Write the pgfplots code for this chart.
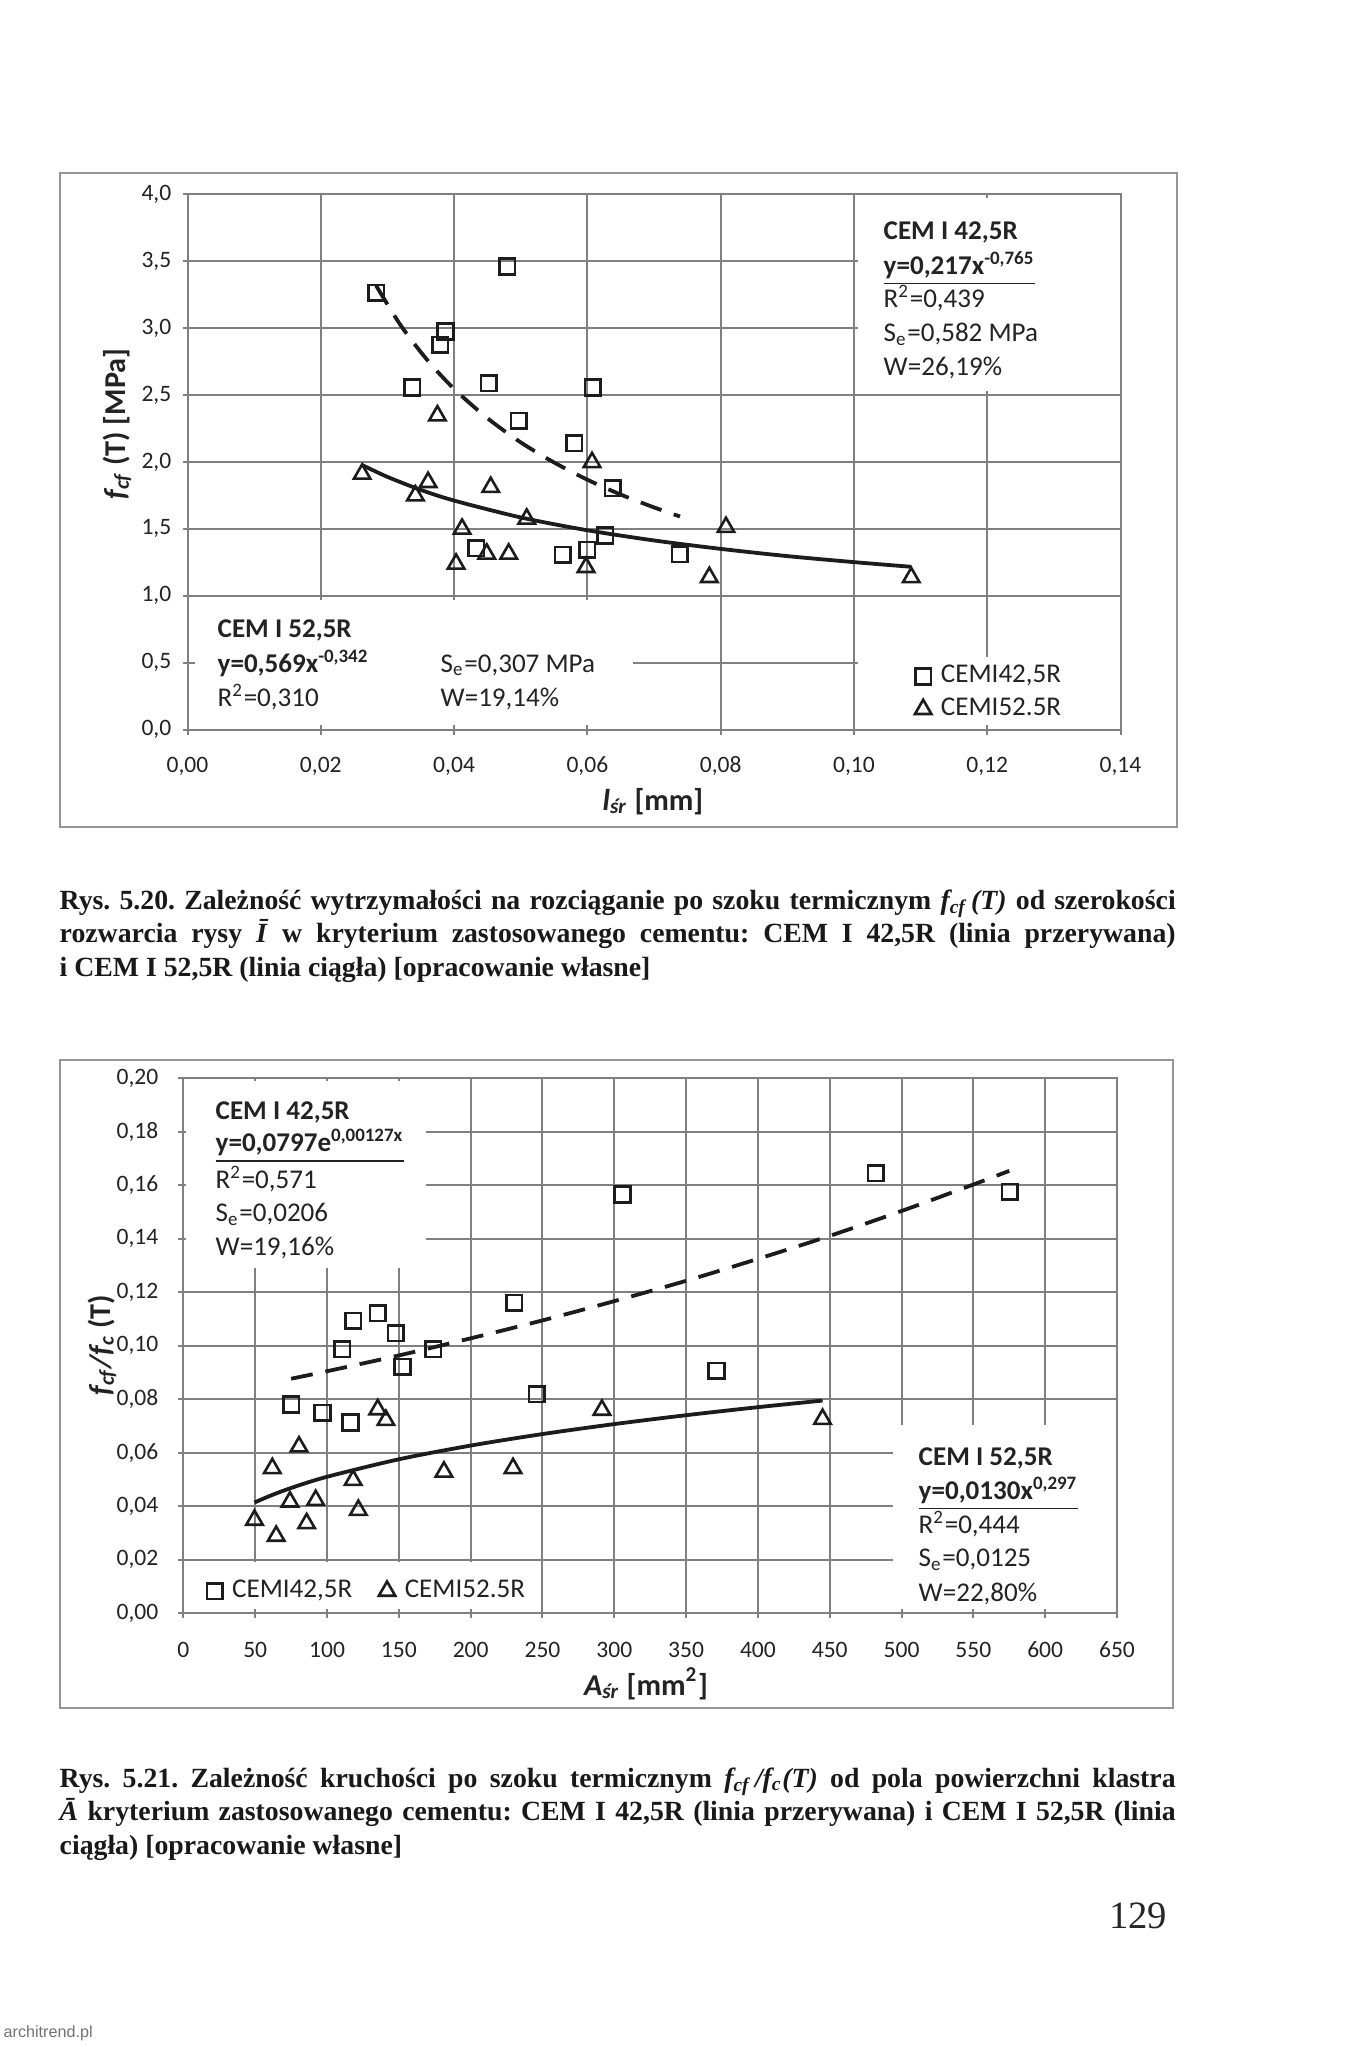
\documentclass[border=0pt]{standalone}
\usepackage{fontspec}
\setmainfont{Carlito}
\newfontfamily\timesf{Liberation Serif}
\newfontfamily\sansf{Liberation Sans}
\usepackage{pgfplots}
\pgfplotsset{compat=1.18}
\definecolor{gridc}{RGB}{128,128,128}
\definecolor{ink}{RGB}{28,28,28}
\definecolor{framec}{RGB}{150,150,150}
\definecolor{txt}{RGB}{35,35,35}
\newcommand{\tickf}{\fontsize{6.7}{8}\selectfont}
\newcommand{\annf}{\fontsize{7.7}{9.3}\selectfont}
\newcommand{\labf}{\fontsize{8.6}{10}\selectfont\bfseries}
\newcommand{\capf}{\timesf\bfseries\fontsize{7.9}{9.5}\selectfont\frenchspacing}

\pgfplotsset{
 excel/.style={
  scale only axis, clip=false, grid=major,
  major grid style={gridc, line width=0.2mm},
  axis line style={gridc, line width=0.2mm},
  tick style={gridc, line width=0.2mm},
  tick align=center, major tick length=1.0mm,
  xtick pos=left, ytick pos=left,
  /pgf/number format/assume math mode=true,
  xticklabel style={font=\tickf, text=txt, anchor=base, inner sep=0pt},
  yticklabel style={font=\tickf, text=txt, anchor=east, inner sep=0pt},
  legend style={draw=none, fill=none, font=\annf, text=txt, inner sep=0pt, outer sep=0pt,
     nodes={inner sep=0pt}, /tikz/every odd column/.append style={column sep=0.95mm}},
  legend cell align=left,
  legend image code/.code={\draw[##1] plot coordinates {(0.75mm,0mm)};},
 },
 mk42/.style={only marks, mark=square, mark size=0.78mm, mark options={ink, line width=0.26mm, solid}},
 mk52/.style={only marks, mark=triangle, mark size=0.95mm, mark options={ink, line width=0.26mm, solid}},
 trend/.style={ink, line width=0.38mm, smooth, no markers},
}

\begin{document}
\begin{tikzpicture}
\useasboundingbox (0,0) rectangle (135.5mm,-204.7mm);
\fill[white] (0,0) rectangle (135.5mm,-204.7mm);

% ---------------- chart 1 ----------------
\begin{axis}[excel,
  at={(18.75mm,-72.95mm)}, anchor=south west,
  width=93.3mm, height=53.52mm,
  xmin=0, xmax=0.14, ymin=0, ymax=4,
  xtick={0,0.02,0.04,0.06,0.08,0.10,0.12,0.14},
  ytick={0,0.5,1,1.5,2,2.5,3,3.5,4},
  xticklabel style={yshift=-3.77mm, /pgf/number format/.cd, fixed, fixed zerofill, precision=2, use comma},
  yticklabel style={xshift=-1.05mm, /pgf/number format/.cd, fixed, fixed zerofill, precision=1, use comma},
  legend style={at={(0.7797,0.1205)}, anchor=north west, row sep=1.0mm},
]
\addplot[mk42] coordinates {
 (0.0283,3.265) (0.0480,3.46) (0.0387,2.974) (0.0379,2.875) (0.0337,2.556)
 (0.0452,2.588) (0.0608,2.556) (0.0497,2.307) (0.0580,2.14) (0.0638,1.804)
 (0.0627,1.45) (0.0433,1.356) (0.0563,1.306) (0.0600,1.343) (0.0739,1.31)};
\addlegendentry{CEMI42,5R}
\addplot[mk52] coordinates {
 (0.0262,1.910) (0.0342,1.748) (0.0361,1.848) (0.0375,2.346) (0.0455,1.811)
 (0.0509,1.574) (0.0412,1.499) (0.0403,1.238) (0.0449,1.313) (0.0482,1.313)
 (0.0607,1.997) (0.0598,1.213) (0.0808,1.512) (0.0783,1.138) (0.1086,1.137)};
\addlegendentry{CEMI52.5R}
\addplot[trend, dash pattern=on 2.2mm off 1.3mm, forget plot] coordinates {
 (0.0283,3.318) (0.032,3.020) (0.036,2.760) (0.040,2.546) (0.045,2.327) (0.050,2.146)
 (0.055,1.996) (0.060,1.867) (0.065,1.756) (0.070,1.660) (0.0739,1.592)};
\addplot[trend, forget plot] coordinates {
 (0.0262,1.977) (0.030,1.888) (0.035,1.791) (0.040,1.711) (0.050,1.585) (0.060,1.489)
 (0.070,1.413) (0.080,1.350) (0.090,1.296) (0.100,1.251) (0.1086,1.216)};
\fill[white] (axis cs:0.1006,2.53) rectangle (axis cs:0.14,3.97);
\fill[white] (axis cs:0.0012,0.03) rectangle (axis cs:0.0669,0.97);
\fill[white] (axis cs:0.1006,0.03) rectangle (axis cs:0.14,0.54);
\draw[gridc, line width=0.2mm] (rel axis cs:0,0) rectangle (rel axis cs:1,1);
\end{axis}

% ---------------- chart 2 ----------------
\begin{axis}[excel,
  at={(18.34mm,-161.33mm)}, anchor=south west,
  width=93.36mm, height=53.5mm,
  xmin=0, xmax=650, ymin=0, ymax=0.2,
  xtick={0,50,100,150,200,250,300,350,400,450,500,550,600,650},
  ytick={0,0.02,0.04,0.06,0.08,0.10,0.12,0.14,0.16,0.18,0.20},
  xticklabel style={yshift=-3.87mm},
  yticklabel style={xshift=-1.94mm, /pgf/number format/.cd, fixed, fixed zerofill, precision=2, use comma},
  legend columns=2,
  legend style={at={(0.0253,0.063)}, anchor=north west,
     /tikz/every even column/.append style={column sep=2.65mm}},
]
\addplot[mk42] coordinates {
 (305.7,0.1566) (230.4,0.1161) (118.2,0.1094) (135.3,0.1122) (110.5,0.0987)
 (147.9,0.1047) (174.0,0.0987) (152.6,0.0922) (371.1,0.0907) (246,0.0819)
 (75,0.0781) (96.8,0.0750) (116.3,0.0713) (482.1,0.1645) (575.3,0.1576)};
\addlegendentry{CEMI42,5R}
\addplot[mk52] coordinates {
 (49.5,0.0349) (64.6,0.0289) (61.9,0.0542) (80.5,0.0623) (74.2,0.0417)
 (85.8,0.0336) (92.1,0.0423) (118.2,0.0498) (121.8,0.0386) (135.3,0.0762)
 (141.0,0.0722) (181.4,0.0529) (229.5,0.0542) (291.4,0.0760) (445,0.0726)};
\addlegendentry{CEMI52.5R}
\addplot[trend, dash pattern=on 2.2mm off 1.3mm, forget plot] coordinates {
 (75,0.0877) (100,0.0905) (150,0.0964) (200,0.1028) (250,0.1095) (300,0.1167)
 (350,0.1243) (400,0.1325) (450,0.1411) (500,0.1504) (550,0.1603) (575,0.1654)};
\addplot[trend, forget plot] coordinates {
 (49.5,0.04142) (60,0.04385) (75,0.04686) (100,0.05104) (150,0.05758) (200,0.06271)
 (250,0.06701) (300,0.07074) (350,0.07406) (400,0.07706) (445,0.07953)};
\fill[white] (axis cs:2,0.129) rectangle (axis cs:169,0.199);
\fill[white] (axis cs:494,0.0015) rectangle (axis cs:650,0.0704);
\fill[white] (axis cs:15,0.0015) rectangle (axis cs:245,0.019);
\draw[gridc, line width=0.2mm] (rel axis cs:0,0) rectangle (rel axis cs:1,1);
\end{axis}

\begin{scope}[x=0.1mm, y=-0.1mm]
% frames
\draw[framec, line width=0.12mm] (60,173) rectangle (1177,827);
\draw[framec, line width=0.12mm] (60,1060) rectangle (1173,1708);

% chart annotations
\begin{scope}[every node/.style={anchor=base west, inner sep=0pt, font=\annf, text=txt}]
\node at (883,240) {\bfseries CEM I 42,5R};
\node at (883,274.5) {\bfseries\underline{y=0,217x\textsuperscript{-0,765}}};
\node at (883,307.5) {R\textsuperscript{2}=0,439};
\node at (883,341.5) {S\textsubscript{e}=0,582 MPa};
\node at (883,375.5) {W=26,19\%};
\node at (217,637.7) {\bfseries CEM I 52,5R};
\node at (217,672) {\bfseries y=0,569x\textsuperscript{-0,342}};
\node at (217,706.7) {R\textsuperscript{2}=0,310};
\node at (440,672) {S\textsubscript{e}=0,307 MPa};
\node at (440,706.7) {W=19,14\%};
\node at (215,1119.3) {\bfseries CEM I 42,5R};
\node at (215,1151.7) {\bfseries\underline{y=0,0797e\textsuperscript{0,00127x}}};
\node at (215,1188.3) {R\textsuperscript{2}=0,571};
\node at (215,1221.7) {S\textsubscript{e}=0,0206};
\node at (215,1255.7) {W=19,16\%};
\node at (918,1465) {\bfseries CEM I 52,5R};
\node at (918,1499.3) {\bfseries\underline{y=0,0130x\textsuperscript{0,297}}};
\node at (918,1533.3) {R\textsuperscript{2}=0,444};
\node at (918,1566.7) {S\textsubscript{e}=0,0125};
\node at (918,1601.7) {W=22,80\%};
\end{scope}

% axis titles
\node[font=\labf, text=txt, inner sep=0pt, anchor=base] at (653,810) {\itshape l\textsubscript{śr}\upshape\ [mm]};
\node[font=\labf, text=txt, inner sep=0pt, anchor=base] at (646,1695) {\itshape A\textsubscript{śr}\upshape\ [mm\textsuperscript{2}]};
\node[font=\labf, text=txt, inner sep=0pt, rotate=90] at (117,424) {\itshape f\textsubscript{cf}\upshape\ (T) [MPa]};
\node[font=\labf, text=txt, inner sep=0pt, rotate=90] at (102,1345) {\itshape f\textsubscript{cf}/f\textsubscript{c}\upshape\ (T)};

% captions
\begin{scope}[every node/.style={anchor=base west, inner sep=0pt, font=\capf, text=black!90}]
\node at (59,909) {\makebox[111.6mm][s]{Rys. 5.20. Zależność wytrzymałości na rozciąganie po szoku termicznym \textit{f\textsubscript{cf}\,(T)} od szerokości}};
\node at (59,942.5) {\makebox[111.6mm][s]{rozwarcia rysy \textit{Ī} w kryterium zastosowanego cementu: CEM I 42,5R (linia przerywana)}};
\node at (59,976) {i CEM I 52,5R (linia ciągła) [opracowanie własne]};
\node at (59,1787) {\makebox[111.6mm][s]{Rys. 5.21. Zależność kruchości po szoku termicznym \textit{f\textsubscript{cf}\,/f\textsubscript{c}(T)} od pola powierzchni klastra}};
\node at (59,1820.5) {\makebox[111.6mm][s]{\textit{Ā} kryterium zastosowanego cementu: CEM I 42,5R (linia przerywana) i CEM I 52,5R (linia}};
\node at (59,1854) {ciągła) [opracowanie własne]};
\end{scope}
\node[anchor=base east, inner sep=0pt, font=\timesf\fontsize{11}{13}\selectfont, text=black!85] at (1168,1928) {129};
\node[anchor=base west, inner sep=0pt, font=\sansf\fontsize{4.6}{5}\selectfont, text=black!55] at (3,2037) {architrend.pl};
\end{scope}
\end{tikzpicture}
\end{document}
